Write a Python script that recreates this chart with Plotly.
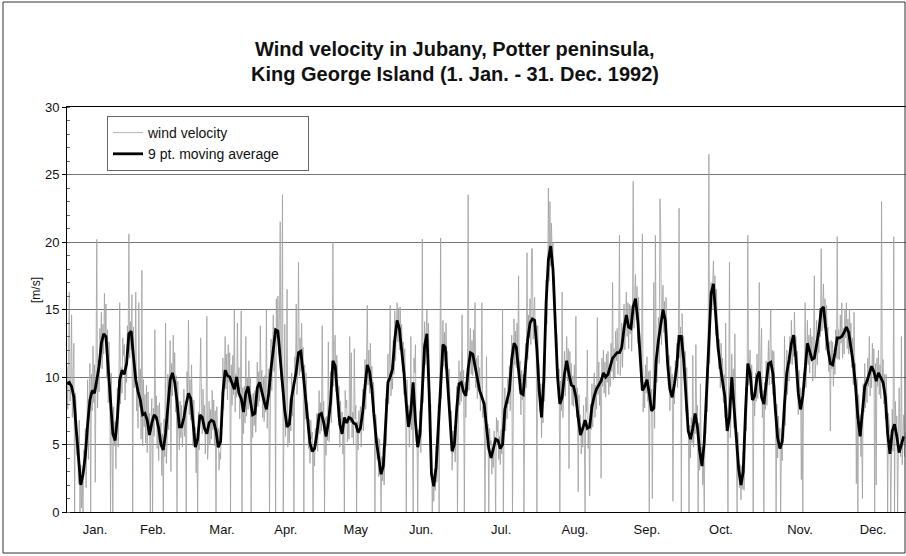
import plotly.graph_objects as go

# 9-point moving average, one value per day (day 0 = 1 Jan 1992)
moving_avg = [
    9.5, 9.6, 9.3, 8.5, 6.2, 3.9, 2.0, 2.8, 4.2, 6.5,
    8.3, 9.0, 8.8, 9.8, 10.8, 12.5, 13.2, 13.0, 10.8, 8.0,
    5.8, 5.3, 7.0, 9.8, 10.5, 10.2, 11.0, 13.2, 13.4, 11.5,
    9.8, 8.9, 8.3, 7.2, 7.3, 6.8, 5.7, 6.6, 7.2, 7.0,
    6.2, 5.0, 4.6, 5.8, 8.0, 9.8, 10.3, 9.6, 8.2, 6.3,
    6.3, 7.0, 8.0, 8.8, 8.4, 6.5, 4.8, 5.4, 7.2, 7.0,
    6.2, 5.8, 6.6, 6.8, 6.7, 6.0, 4.8, 5.2, 8.8, 10.5,
    10.1, 10.0, 9.5, 9.1, 10.0, 8.8, 8.4, 7.4, 8.8, 9.3,
    8.2, 7.2, 7.3, 9.2, 9.6, 8.8, 8.2, 7.6, 8.8, 10.6,
    12.2, 13.5, 13.4, 11.5, 9.5, 7.5, 6.3, 6.5, 8.5, 9.4,
    10.4, 11.8, 11.9, 10.3, 8.5, 6.4, 5.1, 4.5, 4.7, 5.8,
    7.2, 7.3, 6.6, 5.6, 6.6, 8.2, 11.2, 10.8, 8.7, 6.5,
    5.8, 7.0, 6.6, 7.0, 6.9, 6.6, 6.5, 5.9, 6.2, 7.4,
    9.3, 10.9, 10.4, 9.1, 7.0, 5.2, 4.0, 2.8, 3.4, 6.5,
    9.6, 10.0, 10.6, 12.8, 14.2, 13.6, 12.0, 10.3, 8.0, 6.3,
    7.5, 9.6, 6.7, 4.8, 5.8, 9.5, 12.3, 13.2, 8.8, 2.8,
    1.9, 3.3, 6.3, 9.8, 12.4, 12.2, 10.0, 7.1, 4.5, 5.0,
    7.6, 9.5, 9.6, 8.9, 8.6, 10.6, 11.8, 11.7, 10.8, 9.9,
    9.0, 8.5, 8.0, 6.3, 4.7, 4.0, 4.6, 5.4, 5.3, 4.7,
    5.0, 7.6, 8.3, 9.0, 11.3, 12.5, 12.2, 10.6, 8.8, 8.7,
    10.8, 12.8, 14.0, 14.3, 14.2, 12.0, 9.0, 7.0, 9.8, 15.5,
    18.7, 19.7, 18.0, 13.7, 10.0, 8.0, 8.5, 10.2, 11.2, 10.2,
    9.4, 9.3, 8.5, 7.0, 5.7, 6.2, 6.8, 6.2, 6.3, 7.8,
    8.6, 9.1, 9.4, 9.7, 10.3, 10.0, 10.2, 10.8, 11.4, 11.6,
    11.8, 11.8, 12.2, 13.6, 14.6, 13.7, 13.6, 15.2, 15.8, 14.2,
    11.3, 9.0, 9.3, 9.8, 8.8, 7.5, 7.7, 11.2, 12.7, 14.0,
    15.0, 14.2, 11.0, 9.1, 8.5, 9.5, 10.8, 13.0, 13.0, 11.3,
    9.0, 6.0, 5.4, 6.2, 7.3, 6.3, 4.5, 3.4, 5.2, 9.0,
    12.7, 16.2, 16.9, 14.8, 12.2, 10.8, 9.7, 8.5, 6.0, 7.0,
    10.0, 7.8, 5.6, 3.2, 2.0, 3.0, 7.5, 11.0, 10.3, 8.3,
    8.6, 10.0, 10.4, 8.5, 8.0, 9.5, 11.0, 11.1, 10.2, 7.6,
    5.5, 4.7, 5.2, 8.0, 10.3, 11.3, 12.5, 13.1, 11.3, 8.8,
    7.6, 8.6, 10.8, 12.5, 11.9, 11.3, 11.4, 12.5, 13.4, 15.0,
    15.2, 13.6, 12.0, 11.0, 10.9, 11.8, 12.9, 12.9, 13.0, 13.3,
    13.7, 13.3, 12.3, 11.0, 9.3, 7.0, 5.6, 7.8, 9.3, 9.7,
    10.2, 10.8, 10.4, 9.7, 10.3, 10.0, 9.6, 8.5, 5.8, 4.3,
    6.0, 6.5, 5.6, 4.4, 5.0, 5.6,
]

# wind velocity readings, three per day (every 8 hours)
wind_velocity = [
    10.8, 7.6, 11.9, 16.3, 8.2, 9.9, 14.6, 7.0, 10.2, 12.5, 0.0, 8.8, 7.9, 4.2, 5.6,
    2.1, 6.8, 0.0, 3.5, 0.3, 2.4, 0.0, 4.6, 3.1, 6.2, 1.8, 5.5, 9.8, 3.9, 7.4,
    11.0, 0.0, 10.2, 7.5, 12.3, 8.1, 10.9, 2.2, 9.6, 20.2, 7.7, 11.3, 8.9, 13.6, 12.1,
    14.8, 10.6, 13.9, 11.7, 16.2, 12.8, 15.4, 9.9, 13.5, 8.1, 12.6, 9.4, 0.0, 10.3, 6.2,
    0.0, 7.8, 4.9, 6.7, 3.2, 7.1, 9.2, 4.8, 8.6, 15.5, 8.0, 10.7, 8.8, 12.9, 11.6,
    12.4, 8.3, 10.9, 9.6, 13.8, 12.2, 20.6, 11.4, 14.1, 12.0, 16.1, 0.0, 13.7, 9.2, 10.8,
    16.3, 7.5, 9.0, 6.2, 15.5, 7.8, 10.6, 5.4, 17.9, 4.9, 9.8, 6.3, 8.7, 5.1, 9.4,
    4.4, 8.9, 6.0, 7.3, 0.0, 6.8, 8.4, 0.0, 7.7, 5.6, 13.5, 6.8, 8.6, 4.7, 7.9,
    3.8, 8.1, 5.9, 6.6, 2.7, 5.8, 0.0, 6.9, 4.1, 14.0, 3.6, 5.2, 10.2, 6.1, 9.5,
    12.7, 3.0, 11.0, 8.6, 13.1, 9.9, 11.8, 7.4, 10.1, 0.0, 9.7, 7.0, 4.6, 8.2, 5.5,
    7.9, 4.8, 6.4, 9.1, 5.6, 8.2, 0.0, 10.4, 8.7, 14.2, 7.2, 9.8, 6.8, 10.9, 7.3,
    4.9, 8.3, 5.2, 6.3, 2.9, 5.4, 0.0, 7.4, 4.6, 9.6, 12.9, 8.3, 5.8, 9.1, 6.4,
    7.9, 4.3, 6.8, 14.5, 3.9, 5.1, 8.2, 5.0, 7.6, 5.4, 9.0, 6.1, 8.3, 4.9, 7.5,
    0.0, 7.8, 5.6, 6.2, 3.1, 4.4, 3.9, 7.0, 6.3, 11.4, 7.6, 10.1, 13.0, 9.1, 11.7,
    8.3, 12.4, 9.6, 11.8, 0.0, 10.9, 7.9, 11.6, 8.7, 15.0, 7.4, 10.2, 8.5, 14.0, 9.3,
    10.7, 6.9, 9.5, 14.9, 0.0, 9.2, 5.8, 9.3, 6.6, 13.0, 7.1, 10.0, 7.6, 11.2, 8.4,
    9.9, 0.0, 8.7, 5.5, 8.8, 6.4, 9.0, 5.9, 7.8, 11.1, 7.8, 10.4, 8.2, 13.8, 9.1,
    10.5, 7.0, 9.9, 6.7, 10.1, 7.4, 15.0, 6.2, 8.3, 10.6, 0.0, 9.7, 12.8, 9.0, 11.9,
    14.6, 10.4, 13.3, 0.0, 15.8, 12.9, 16.0, 11.7, 14.2, 21.5, 9.8, 12.6, 23.5, 0.0, 8.7,
    13.9, 5.6, 8.2, 16.5, 4.8, 6.9, 5.1, 8.4, 6.0, 10.3, 7.1, 9.6, 0.0, 11.5, 9.9,
    15.4, 8.7, 11.3, 18.5, 10.1, 12.9, 10.4, 14.0, 11.2, 12.2, 0.0, 10.9, 6.9, 10.3, 7.8,
    8.1, 4.7, 6.9, 3.6, 6.8, 5.4, 5.9, 0.0, 4.8, 3.4, 6.2, 4.9, 7.3, 4.5, 6.6,
    9.0, 5.8, 8.1, 6.0, 13.8, 7.2, 8.2, 0.0, 7.0, 4.2, 7.1, 5.3, 12.6, 5.2, 7.3,
    10.4, 6.6, 9.5, 20.0, 9.3, 12.4, 13.1, 8.9, 11.6, 10.6, 7.0, 9.3, 4.8, 8.2, 5.7,
    7.4, 4.3, 6.2, 0.0, 9.0, 7.7, 8.3, 5.2, 7.1, 5.4, 13.0, 6.6, 11.8, 5.5, 7.4,
    5.0, 12.1, 6.9, 7.9, 0.0, 6.7, 4.6, 7.5, 5.8, 7.8, 4.8, 6.5, 9.1, 6.0, 8.2,
    11.3, 7.6, 10.2, 15.3, 9.4, 12.0, 8.8, 12.5, 9.7, 10.8, 7.4, 9.6, 8.7, 0.0, 7.2,
    6.6, 3.9, 5.5, 2.6, 5.4, 3.8, 0.0, 4.1, 2.3, 4.8, 2.0, 3.9, 8.4, 4.9, 7.6,
    11.7, 8.0, 10.8, 15.3, 8.6, 10.9, 9.1, 12.7, 10.2, 14.9, 11.2, 13.8, 15.5, 12.6, 15.1,
    12.0, 15.2, 13.1, 13.9, 10.4, 12.6, 8.7, 12.1, 9.5, 0.0, 9.8, 7.3, 7.9, 4.8, 6.6,
    13.0, 6.1, 8.4, 0.0, 11.4, 10.3, 12.4, 5.2, 6.0, 0.0, 6.1, 4.9, 7.5, 4.4, 6.6,
    20.2, 8.1, 10.7, 14.1, 10.9, 13.2, 15.0, 11.6, 14.0, 10.8, 6.5, 8.0, 4.3, 0.0, 2.9,
    0.8, 3.2, 1.6, 4.9, 2.2, 3.8, 8.0, 0.0, 7.2, 20.3, 8.4, 10.9, 14.2, 10.8, 13.3,
    10.6, 14.0, 11.5, 11.9, 8.4, 10.6, 8.8, 5.6, 7.5, 3.1, 6.0, 4.4, 6.4, 3.7, 5.8,
    9.3, 0.0, 8.5, 11.2, 7.9, 10.4, 8.2, 14.6, 9.0, 10.5, 0.0, 9.6, 7.0, 10.2, 8.9,
    23.5, 9.0, 11.7, 13.6, 10.2, 12.7, 10.1, 13.5, 11.2, 15.5, 9.2, 11.4, 8.4, 11.6, 9.5,
    10.7, 7.5, 9.8, 15.5, 7.0, 8.1, 6.5, 0.0, 7.4, 11.5, 4.8, 6.5, 0.0, 6.2, 5.0,
    5.3, 2.8, 4.6, 3.3, 6.0, 4.2, 0.0, 7.0, 5.9, 6.8, 3.9, 5.6, 3.5, 6.1, 4.3,
    15.0, 0.0, 5.6, 9.2, 6.0, 8.4, 6.9, 10.0, 8.0, 10.8, 7.5, 9.7, 13.1, 0.0, 12.2,
    14.3, 10.9, 13.4, 10.7, 14.0, 11.6, 17.5, 9.0, 11.2, 7.2, 10.5, 8.3, 10.2, 0.0, 9.5,
    12.5, 9.2, 19.2, 11.3, 14.6, 12.9, 15.8, 12.4, 19.5, 19.5, 12.8, 14.9, 15.9, 12.5, 13.8,
    0.0, 13.8, 11.4, 10.8, 7.4, 9.5, 5.5, 8.7, 6.6, 11.6, 8.2, 12.3, 17.2, 13.9, 16.6,
    24.0, 17.1, 23.0, 18.2, 21.4, 19.0, 19.9, 16.3, 17.4, 15.5, 12.0, 13.2, 11.8, 8.4, 10.6,
    0.0, 9.7, 7.5, 16.3, 7.0, 9.1, 11.9, 8.6, 10.8, 13.0, 9.7, 12.1, 3.2, 11.9, 9.6,
    11.0, 7.9, 10.1, 7.8, 10.9, 8.8, 14.5, 7.0, 9.2, 1.5, 8.7, 6.3, 7.2, 4.3, 6.0,
    4.8, 7.9, 5.7, 0.0, 8.5, 7.4, 12.0, 4.7, 6.6, 1.2, 8.0, 6.1, 9.5, 6.3, 8.6,
    10.3, 7.0, 9.4, 7.6, 14.4, 8.7, 11.1, 7.9, 10.0, 2.5, 11.4, 9.3, 12.0, 8.8, 11.1,
    8.5, 11.7, 9.6, 11.9, 8.7, 10.8, 9.3, 12.5, 10.4, 17.0, 9.8, 12.1, 10.0, 13.4, 11.2,
    13.6, 10.2, 12.5, 20.5, 10.1, 11.3, 14.0, 10.7, 12.9, 15.4, 12.0, 14.3, 16.3, 13.0, 15.5,
    12.1, 15.4, 13.2, 15.3, 11.9, 14.4, 24.5, 13.6, 15.9, 17.6, 14.2, 16.7, 12.5, 15.9, 13.7,
    13.0, 9.6, 12.1, 20.6, 7.4, 9.6, 7.7, 10.9, 8.8, 11.5, 8.2, 10.4, 0.0, 10.5, 8.3,
    9.1, 1.0, 8.1, 17.0, 6.2, 20.5, 12.9, 9.6, 11.8, 14.4, 11.0, 23.2, 21.0, 12.4, 15.1,
    16.8, 13.3, 15.6, 12.6, 15.9, 13.6, 12.7, 9.4, 11.6, 7.5, 10.8, 8.6, 10.2, 0.8, 9.0,
    8.0, 11.2, 9.9, 12.5, 9.2, 11.4, 22.5, 11.4, 13.7, 0.0, 14.7, 12.4, 13.0, 9.7, 11.9,
    7.4, 10.7, 8.5, 7.6, 0.0, 6.4, 4.0, 7.0, 5.1, 11.6, 4.8, 6.7, 5.8, 12.4, 7.0,
    7.9, 0.0, 6.6, 3.1, 9.5, 4.2, 4.8, 2.0, 3.7, 0.0, 6.9, 5.8, 10.7, 7.4, 9.8,
    26.5, 11.0, 13.6, 17.0, 15.0, 17.4, 18.6, 15.2, 17.5, 13.1, 16.5, 14.2, 13.9, 10.6, 12.8,
    9.2, 12.5, 10.3, 11.4, 8.1, 10.2, 7.0, 14.0, 8.0, 7.6, 0.0, 6.4, 18.5, 5.5, 7.3,
    11.7, 8.4, 10.6, 6.2, 13.2, 7.3, 7.1, 0.0, 5.9, 4.6, 1.8, 3.5, 0.9, 3.4, 1.7,
    4.5, 1.6, 3.6, 9.2, 6.0, 8.3, 20.5, 9.4, 11.8, 12.0, 8.7, 10.9, 9.9, 0.0, 8.8,
    7.1, 10.3, 8.2, 11.7, 8.4, 10.6, 17.0, 8.8, 11.0, 13.6, 7.0, 9.0, 0.0, 9.6, 7.6,
    11.2, 7.9, 10.1, 12.7, 9.4, 11.6, 15.0, 9.5, 12.0, 8.7, 11.9, 9.6, 9.2, 0.0, 8.0,
    4.0, 7.1, 5.2, 6.2, 0.0, 4.9, 3.8, 6.8, 5.5, 13.0, 6.4, 8.6, 12.0, 8.7, 10.9,
    9.7, 13.0, 11.0, 14.2, 10.9, 13.1, 11.5, 14.8, 12.6, 13.0, 9.7, 11.9, 7.2, 10.5, 8.4,
    9.2, 2.4, 8.0, 0.0, 10.3, 9.1, 15.5, 9.2, 11.4, 14.2, 10.9, 13.1, 10.3, 13.6, 11.5,
    13.0, 9.7, 11.9, 17.5, 9.9, 11.0, 14.2, 10.9, 13.1, 11.8, 15.1, 13.0, 19.5, 13.4, 15.7,
    16.9, 13.6, 15.8, 12.0, 15.3, 13.2, 13.7, 10.4, 12.6, 6.0, 12.7, 10.6, 12.6, 9.3, 11.5,
    10.2, 13.5, 11.4, 20.4, 11.3, 13.5, 11.3, 14.6, 12.5, 15.5, 11.4, 13.6, 11.7, 15.0, 12.9,
    15.5, 12.1, 14.3, 11.7, 15.0, 12.9, 14.0, 10.7, 12.9, 9.4, 14.8, 10.6, 11.0, 2.1, 9.9,
    0.0, 8.7, 6.6, 7.2, 4.1, 5.9, 1.0, 9.5, 7.4, 11.0, 7.7, 9.9, 8.1, 11.4, 9.3,
    13.0, 8.6, 10.8, 9.2, 12.5, 10.4, 12.1, 0.0, 11.0, 2.0, 11.4, 9.3, 12.0, 8.7, 10.9,
    8.4, 23.0, 9.6, 11.3, 8.0, 10.2, 6.9, 10.2, 8.1, 0.0, 7.3, 6.1, 5.8, 0.0, 4.6,
    7.6, 4.5, 20.4, 0.0, 8.2, 6.1, 7.1, 0.0, 5.9, 9.2, 5.9, 4.1, 13.0, 3.5, 5.6,
    7.2, 4.1, 5.9,
]

months = ["Jan.", "Feb.", "Mar.", "Apr.", "May", "Jun.",
          "Jul.", "Aug.", "Sep.", "Oct.", "Nov.", "Dec."]
month_label_day = [12.2, 37.5, 67.6, 95.5, 126.0, 154.5,
                   189.4, 221.6, 253.0, 285.3, 319.8, 351.6]

raw_x = [i / 3 for i in range(len(wind_velocity))]
avg_x = list(range(len(moving_avg)))

fig = go.Figure()
fig.add_trace(go.Scatter(
    x=raw_x, y=wind_velocity, mode="lines", name="wind velocity",
    line=dict(color="#a0a0a0", width=0.8),
))
fig.add_trace(go.Scatter(
    x=avg_x, y=moving_avg, mode="lines",
    name="9 pt. moving average" + "\u00a0" * 6,
    line=dict(color="#000000", width=2.8),
))

W, H = 906, 556
L, R, T, B = 67, 0, 107, 44
pw, ph = W - L - R, H - T - B


def px(x):
    return (x - L) / pw


def py(y):
    return (H - B - y) / ph


FONT = "Arial, Liberation Sans, sans-serif"
axis_font = dict(family=FONT, size=13, color="#111")
title_font = dict(family=FONT, size=20, color="#111")

fig.update_layout(
    width=W, height=H,
    margin=dict(l=L, r=R, t=T, b=B),
    paper_bgcolor="white", plot_bgcolor="white",
    showlegend=True,
    legend=dict(
        x=px(107), y=py(116), xanchor="left", yanchor="top",
        bgcolor="white", bordercolor="#666", borderwidth=1,
        font=dict(family=FONT, size=14, color="#111"),
        itemwidth=30,
    ),
    xaxis=dict(
        range=[0, 366], tickmode="array", tickvals=month_label_day, ticktext=months,
        ticks="", showgrid=False, zeroline=False,
        showline=True, linecolor="#000", linewidth=1, mirror=True,
        tickfont=axis_font, ticklabelstandoff=5,
    ),
    yaxis=dict(
        range=[0, 30], dtick=5, tick0=0,
        showgrid=True, gridcolor="#777", gridwidth=1, zeroline=False,
        showline=True, linecolor="#000", linewidth=1, mirror=True,
        ticks="outside", ticklen=4, tickcolor="#000",
        minor=dict(dtick=1, ticks="inside", ticklen=3, tickcolor="#666", showgrid=False),
        tickfont=axis_font,
    ),
    annotations=[
        dict(text="<b>Wind velocity in Jubany, Potter peninsula,</b>",
             x=px(455), y=py(49), xref="paper", yref="paper",
             xanchor="center", yanchor="middle", showarrow=False, font=title_font),
        dict(text="<b>King George Island (1. Jan. - 31. Dec. 1992)</b>",
             x=px(455), y=py(74), xref="paper", yref="paper",
             xanchor="center", yanchor="middle", showarrow=False, font=title_font),
        dict(text="[m/s]", textangle=-90,
             x=px(36), y=py(290), xref="paper", yref="paper",
             xanchor="center", yanchor="middle", showarrow=False,
             font=dict(family=FONT, size=12, color="#111")),
    ],
    shapes=[
        dict(type="rect", xref="paper", yref="paper",
             x0=px(3), x1=px(905), y0=py(553), y1=py(2),
             line=dict(color="#333", width=1)),
    ],
)

fig.write_html("out.html")
